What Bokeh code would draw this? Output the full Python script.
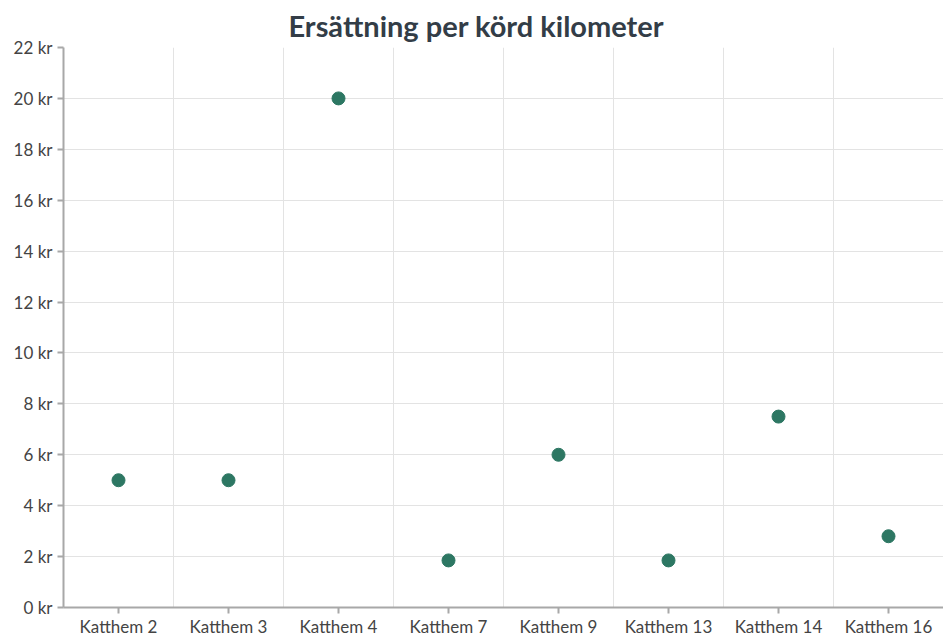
from bokeh.plotting import figure
from bokeh.models import ColumnDataSource, FixedTicker, Range1d, CustomJSTickFormatter
from bokeh.embed import file_html
from bokeh.resources import INLINE

categories = ["Katthem 2", "Katthem 3", "Katthem 4", "Katthem 7",
              "Katthem 9", "Katthem 13", "Katthem 14", "Katthem 16"]
values = [5.0, 5.0, 20.0, 1.85, 6.0, 1.85, 7.5, 2.8]
y_ticks = [0, 2, 4, 6, 8, 10, 12, 14, 16, 18, 20, 22]

xpos = [i + 0.5 for i in range(len(categories))]
src = ColumnDataSource(dict(x=xpos, y=values, name=categories))

p = figure(width=943, height=639, output_backend="svg", toolbar_location=None,
           x_range=Range1d(0, len(categories)), y_range=Range1d(0, 22),
           title="Ersättning per körd kilometer")
p.min_border_left = 63
p.min_border_right = 0
p.min_border_top = 0
p.min_border_bottom = 0
p.outline_line_color = None
p.background_fill_color = "white"
p.border_fill_color = "white"

p.title.align = "left"
p.title.offset = 225
p.title.text_font = "Lato"
p.title.text_font_size = "29px"
p.title.text_font_style = "bold"
p.title.text_color = "#333d47"

p.scatter("x", "y", source=src, size=13, color="#2d7763", line_color="#2d7763")

# x axis
p.xaxis.ticker = FixedTicker(ticks=xpos)
p.xaxis.major_label_overrides = {x: c for x, c in zip(xpos, categories)}
p.xaxis.minor_tick_line_color = None
p.xaxis.major_tick_in = 0
p.xaxis.major_tick_out = 6
p.xaxis.axis_line_color = "#a8a8a8"
p.xaxis.axis_line_width = 2
p.xaxis.major_tick_line_color = "#a8a8a8"
p.xaxis.major_tick_line_width = 2
p.xaxis.major_label_text_font = "Lato"
p.xaxis.major_label_text_font_size = "17px"
p.xaxis.major_label_text_color = "#444444"
p.xaxis.major_label_standoff = 2

# y axis
p.yaxis.ticker = FixedTicker(ticks=y_ticks)
p.yaxis.formatter = CustomJSTickFormatter(code="return tick + ' kr';")
p.yaxis.minor_tick_line_color = None
p.yaxis.major_tick_in = 0
p.yaxis.major_tick_out = 6
p.yaxis.axis_line_color = "#a8a8a8"
p.yaxis.axis_line_width = 2
p.yaxis.major_tick_line_color = "#a8a8a8"
p.yaxis.major_tick_line_width = 2
p.yaxis.major_label_text_font = "Lato"
p.yaxis.major_label_text_font_size = "17px"
p.yaxis.major_label_text_color = "#444444"
p.yaxis.major_label_standoff = 5

# grids
p.xgrid.ticker = FixedTicker(ticks=list(range(1, len(categories))))
p.xgrid.grid_line_color = "#e3e3e3"
p.ygrid.grid_line_color = "#e3e3e3"

open("out.html", "w").write(file_html(p, INLINE))
